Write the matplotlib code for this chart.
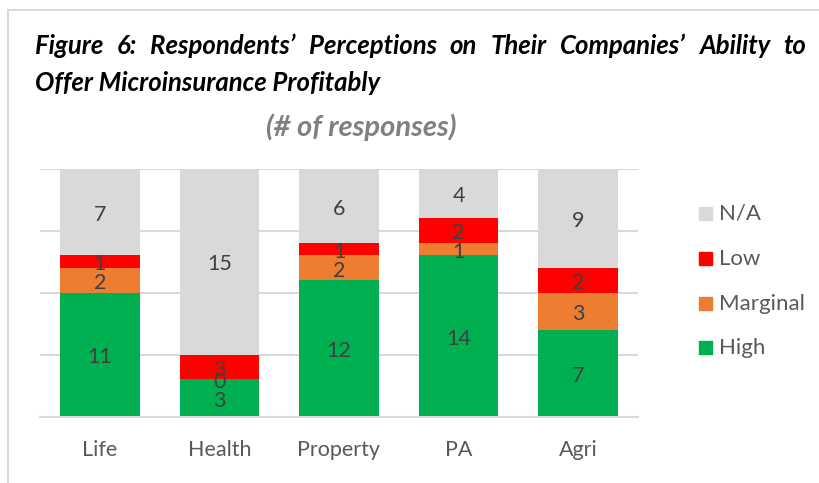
import matplotlib
matplotlib.use("Agg")
import matplotlib.pyplot as plt
import matplotlib.transforms as mtransforms
from matplotlib.patches import Rectangle

categories = ["Life", "Health", "Property", "PA", "Agri"]
series = ["High", "Marginal", "Low", "N/A"]
# segment heights as drawn (share of bar, %)
high_pct = [50, 15, 55, 65, 35]
marginal_pct = [10, 0, 10, 5, 15]
low_pct = [5, 10, 5, 10, 10]
na_pct = [35, 75, 30, 20, 40]
# numbers printed in the segments
high_n = [11, 3, 12, 14, 7]
marginal_n = [2, 0, 2, 1, 3]
low_n = [1, 3, 1, 2, 2]
na_n = [7, 15, 6, 4, 9]
colors = ["#00b050", "#ed7d31", "#ff0000", "#d9d9d9"]

title_line1 = "Figure 6: Respondents\u2019 Perceptions on Their Companies\u2019 Ability to"
title_line2 = "Offer Microinsurance Profitably"
subtitle = "(# of responses)"

FONT = "Lato"
W, H = 820, 483
fig = plt.figure(figsize=(W / 100, H / 100), dpi=100)
ax = fig.add_axes([40 / W, 1 - 416.7 / H, 598 / W, 248.2 / H])

# labels sit a touch below the segment middle, like the original
lab_tr = mtransforms.offset_copy(ax.transData, fig=fig, y=-2, units="points")

heights = [high_pct, marginal_pct, low_pct, na_pct]
counts = [high_n, marginal_n, low_n, na_n]
x = range(len(categories))
bottom = [0] * len(categories)
for vals, nums, col in zip(heights, counts, colors):
    ax.bar(x, vals, width=0.665, bottom=bottom, color=col, zorder=2)
    for i, (v, n) in enumerate(zip(vals, nums)):
        ax.text(i, bottom[i] + v / 2, str(n), ha="center", va="center",
                fontsize=15.5, color="#404040", family=FONT, zorder=3,
                transform=lab_tr)
    bottom = [b + v for b, v in zip(bottom, vals)]

ax.set_xlim(-0.5, len(categories) - 0.5)
ax.set_ylim(0, 100)
ax.set_yticks([0, 25, 50, 75, 100])
ax.set_yticklabels([])
ax.tick_params(axis="y", length=0)
ax.tick_params(axis="x", length=0, pad=17)
ax.set_xticks(list(x))
ax.set_xticklabels(categories, fontsize=15.5, color="#595959", family=FONT)
ax.grid(axis="y", color="#d9d9d9", linewidth=1.5, zorder=0)
for s in ["top", "right", "left"]:
    ax.spines[s].set_visible(False)
ax.spines["bottom"].set_color("#d9d9d9")
ax.spines["bottom"].set_linewidth(1.5)

# legend (reverse order, as in the original)
leg_y = [213, 258, 303, 347]
for yy, name, col in zip(leg_y, series[::-1], colors[::-1]):
    fig.add_artist(Rectangle(((699) / W, 1 - (yy + 6.5) / H), 13 / W, 13 / H,
                             transform=fig.transFigure, color=col))
    fig.text(719 / W, 1 - (yy + 1) / H, name, ha="left", va="center", fontsize=16,
             color="#595959", family=FONT)

# outer border of the chart object
fig.add_artist(plt.Line2D([8 / W, 8 / W], [0, 1 - 10 / H], color="#d9d9d9",
                          linewidth=1.5, transform=fig.transFigure))
fig.add_artist(plt.Line2D([8 / W, 1], [1 - 10 / H, 1 - 10 / H], color="#d9d9d9",
                          linewidth=1.5, transform=fig.transFigure))

# justified first title line
tkw = dict(fontsize=18.5, fontweight="bold", fontstyle="italic", family=FONT,
           color="black", va="center")
words = title_line1.split(" ")
renderer = fig.canvas.get_renderer()
arts = [fig.text(0, 1 - 46 / H, w, ha="left", **tkw) for w in words]
widths = [a.get_window_extent(renderer).width for a in arts]
x0, x1 = 35, 806
gap = (x1 - x0 - sum(widths)) / (len(words) - 1)
pos = x0
for a, w in zip(arts, widths):
    a.set_x(pos / W)
    pos += w + gap
fig.text(35 / W, 1 - 83 / H, title_line2, ha="left", **tkw)
fig.text(361 / W, 1 - 127 / H, subtitle, ha="center", fontsize=21,
         fontweight="bold", fontstyle="italic", family=FONT, color="#808080",
         va="center")

fig.savefig("out.png", dpi=100)
